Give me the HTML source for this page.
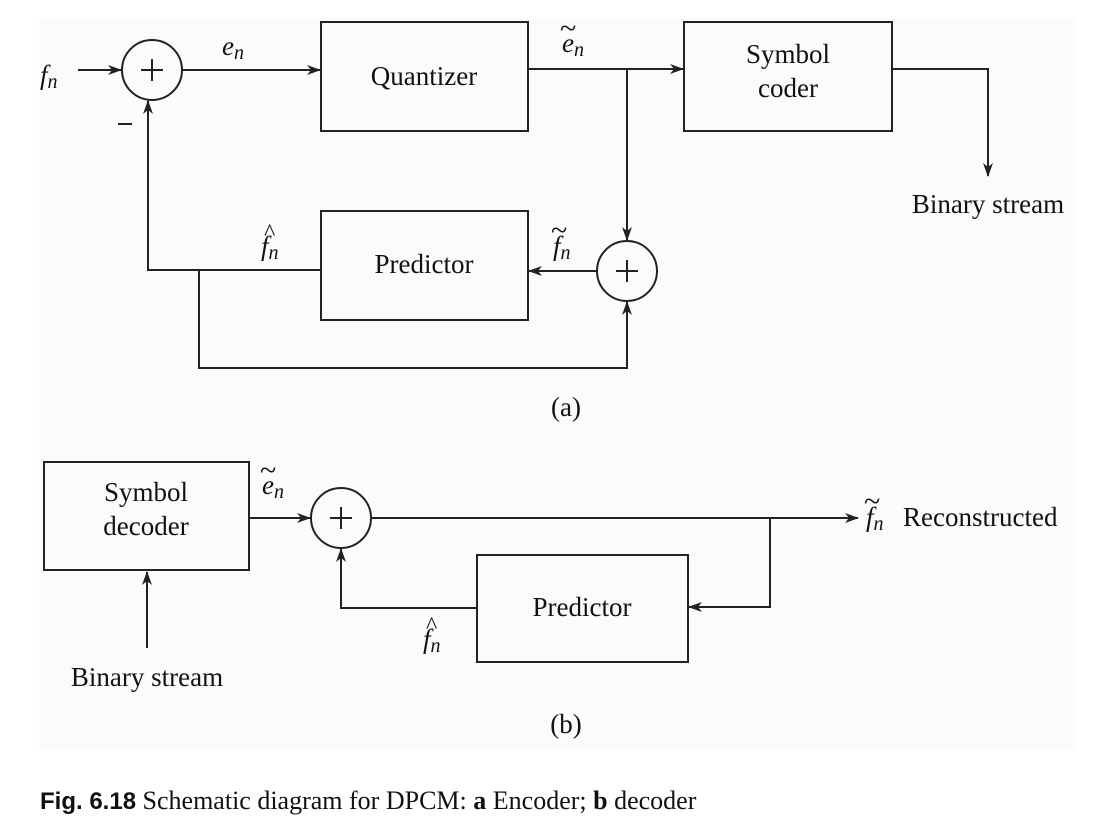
<!DOCTYPE html>
<html><head><meta charset="utf-8"><style>
html,body{margin:0;padding:0;background:#fff;}
svg{display:block;}
text{font-family:"Liberation Serif",serif;fill:#111;}
</style></head><body>
<svg width="1114" height="827" viewBox="0 0 1114 827" xmlns="http://www.w3.org/2000/svg">
<defs>
<marker id="a" markerWidth="14" markerHeight="10" refX="13" refY="5" orient="auto" markerUnits="userSpaceOnUse">
<path d="M0,0 L14,5 L0,10 L4,5 Z" fill="#222"/>
</marker>
</defs>
<rect x="39" y="18" width="1036" height="732" fill="#fbfbfb"/>
<g stroke="#222" stroke-width="2" fill="none">
<line x1="78" y1="70" x2="121" y2="70" marker-end="url(#a)"/>
<circle cx="152" cy="70" r="30"/>
<line x1="182" y1="70" x2="320" y2="70" marker-end="url(#a)"/>
<rect x="321" y="22" width="207" height="109"/>
<line x1="528" y1="69" x2="683" y2="69" marker-end="url(#a)"/>
<rect x="684" y="22" width="208" height="109"/>
<polyline points="892,69 988,69 988,176" marker-end="url(#a)"/>
<line x1="627" y1="69" x2="627" y2="240" marker-end="url(#a)"/>
<circle cx="627" cy="271" r="30"/>
<line x1="597" y1="271" x2="529" y2="271" marker-end="url(#a)"/>
<rect x="321" y="211" width="207" height="109"/>
<polyline points="321,270 148,270 148,101" marker-end="url(#a)"/>
<polyline points="199,270 199,368 627,368 627,302" marker-end="url(#a)"/>
<rect x="44" y="462" width="205" height="108"/>
<line x1="249" y1="518" x2="310" y2="518" marker-end="url(#a)"/>
<circle cx="341" cy="518" r="30"/>
<line x1="371" y1="518" x2="858" y2="518" marker-end="url(#a)"/>
<rect x="477" y="555" width="211" height="107"/>
<polyline points="770,518 770,607 689,607" marker-end="url(#a)"/>
<polyline points="477,608 341,608 341,549" marker-end="url(#a)"/>
<line x1="147" y1="648" x2="147" y2="572" marker-end="url(#a)"/>
</g>
<g stroke="#222" stroke-width="2">
<line x1="141" y1="70" x2="163" y2="70"/><line x1="152" y1="59" x2="152" y2="81"/>
<line x1="616" y1="271" x2="638" y2="271"/><line x1="627" y1="260" x2="627" y2="282"/>
<line x1="330" y1="518" x2="352" y2="518"/><line x1="341" y1="507" x2="341" y2="529"/>
<line x1="118" y1="124" x2="132" y2="124"/>
</g>
<g font-size="27">
<text x="40" y="84" font-style="italic">f<tspan font-size="20" dy="4">n</tspan></text>
<text x="222" y="55" font-style="italic">e<tspan font-size="20" dy="4">n</tspan></text>
<text x="424" y="85" text-anchor="middle">Quantizer</text>
<text x="562" y="52" font-style="italic">e<tspan font-size="20" dy="4">n</tspan></text>
<text x="560" y="38" font-size="30">~</text>
<text x="788" y="63" text-anchor="middle">Symbol</text>
<text x="788" y="97" text-anchor="middle">coder</text>
<text x="988" y="213" text-anchor="middle">Binary stream</text>
<text x="261" y="255" font-style="italic">f<tspan font-size="20" dy="4">n</tspan></text>
<text x="264" y="240" font-size="24">^</text>
<text x="424" y="273" text-anchor="middle">Predictor</text>
<text x="553" y="255" font-style="italic">f<tspan font-size="20" dy="4">n</tspan></text>
<text x="551" y="240" font-size="30">~</text>
<text x="566" y="416" text-anchor="middle">(a)</text>
<text x="146" y="501" text-anchor="middle">Symbol</text>
<text x="146" y="535" text-anchor="middle">decoder</text>
<text x="262" y="494" font-style="italic">e<tspan font-size="20" dy="4">n</tspan></text>
<text x="260" y="480" font-size="30">~</text>
<text x="866" y="526" font-style="italic">f<tspan font-size="20" dy="4">n</tspan></text>
<text x="864" y="511" font-size="30">~</text>
<text x="903" y="526">Reconstructed</text>
<text x="582" y="616" text-anchor="middle">Predictor</text>
<text x="423" y="648" font-style="italic">f<tspan font-size="20" dy="4">n</tspan></text>
<text x="426" y="633" font-size="24">^</text>
<text x="147" y="686" text-anchor="middle">Binary stream</text>
<text x="566" y="733" text-anchor="middle">(b)</text>
</g>
<text x="40" y="809" font-size="26"><tspan font-family="Liberation Sans Narrow,Liberation Sans,sans-serif" font-weight="bold" font-size="24">Fig. 6.18</tspan>  Schematic diagram for DPCM: <tspan font-weight="bold">a</tspan> Encoder; <tspan font-weight="bold">b</tspan> decoder</text>
</svg>
</body></html>
